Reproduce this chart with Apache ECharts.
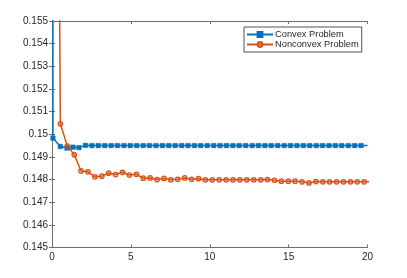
<!DOCTYPE html>
<html><head><meta charset="utf-8">
<script src="https://cdn.jsdelivr.net/npm/echarts@6/dist/echarts.min.js"></script>
<style>html,body{margin:0;padding:0;background:#fff}#c{width:407px;height:278px}</style>
</head><body><div id="c"></div>
<script>
const seriesNames = ['Convex Problem', 'Nonconvex Problem'];
const xTicks = [0, 5, 10, 15, 20];
const yTicks = [0.145, 0.146, 0.147, 0.148, 0.149, 0.15, 0.151, 0.152, 0.153, 0.154, 0.155];

const convexX = [0, 0.06, 0.53, 0.95, 1.33, 1.71, 2.12, 2.53, 2.93, 3.34, 3.75, 4.15, 4.56, 4.96, 5.37, 5.78, 6.18, 6.59, 7.0, 7.4, 7.81, 8.22, 8.62, 9.03, 9.43, 9.84, 10.25, 10.65, 11.06, 11.47, 11.87, 12.28, 12.69, 13.09, 13.5, 13.9, 14.31, 14.72, 15.12, 15.53, 15.94, 16.34, 16.75, 17.15, 17.56, 17.97, 18.37, 18.78, 19.19, 19.59, 20.0];
const convexY = [0.2, 0.14983, 0.14946, 0.14939, 0.14943, 0.14941, 0.14951, 0.1495, 0.1495, 0.1495, 0.1495, 0.1495, 0.1495, 0.1495, 0.1495, 0.1495, 0.1495, 0.1495, 0.1495, 0.1495, 0.1495, 0.1495, 0.1495, 0.1495, 0.1495, 0.1495, 0.1495, 0.1495, 0.1495, 0.1495, 0.1495, 0.1495, 0.1495, 0.1495, 0.1495, 0.1495, 0.1495, 0.1495, 0.1495, 0.1495, 0.1495, 0.1495, 0.1495, 0.1495, 0.1495, 0.1495, 0.1495, 0.1495, 0.1495, 0.1495, 0.1495];

const nonconvexX = [0, 0.53, 0.97, 1.41, 1.84, 2.28, 2.72, 3.16, 3.59, 4.03, 4.47, 4.91, 5.35, 5.78, 6.22, 6.66, 7.10, 7.53, 7.97, 8.41, 8.85, 9.29, 9.72, 10.16, 10.6, 11.04, 11.47, 11.91, 12.35, 12.79, 13.23, 13.66, 14.10, 14.54, 14.98, 15.41, 15.85, 16.29, 16.73, 17.17, 17.6, 18.04, 18.48, 18.92, 19.35, 19.79, 20.23];
const nonconvexY = [0.207, 0.15046, 0.14948, 0.14910, 0.14838, 0.14834, 0.14812, 0.14815, 0.14828, 0.14822, 0.14832, 0.14820, 0.14823, 0.14806, 0.14807, 0.14800, 0.14805, 0.14799, 0.14801, 0.14807, 0.14801, 0.14804, 0.14799, 0.14799, 0.14799, 0.14799, 0.14799, 0.14799, 0.14799, 0.14799, 0.14799, 0.14800, 0.14797, 0.14793, 0.14793, 0.14793, 0.14790, 0.14785, 0.14791, 0.14790, 0.14790, 0.14790, 0.14790, 0.14790, 0.14790, 0.14790, 0.14790];

// the last point of each list only continues the line past the right edge (no marker)
function build(xs, ys) {
  return xs.map((x, i) => i === xs.length - 1 ? {value: [x, ys[i]], symbol: 'none'} : [x, ys[i]]);
}

const txt = '#262626';
const axisCol = '#6e6e6e';
const fmt = v => parseFloat(Number(v).toFixed(3)).toString();
const grid = {left: 52, top: 21, width: 315.5, height: 226.5};

const baseX = {
  type: 'value', min: xTicks[0], max: xTicks[xTicks.length - 1], interval: 5,
  axisLine: {lineStyle: {color: axisCol, width: 1}},
  axisTick: {inside: true, length: 3, lineStyle: {color: axisCol}},
  splitLine: {show: false}
};
const baseY = {
  type: 'value', min: yTicks[0], max: yTicks[yTicks.length - 1], interval: 0.001,
  axisLine: {lineStyle: {color: axisCol, width: 1}},
  axisTick: {inside: true, length: 3, lineStyle: {color: axisCol}},
  splitLine: {show: false}
};

const chart = echarts.init(document.getElementById('c'), null, {renderer: 'canvas'});
chart.setOption({
  backgroundColor: '#fff',
  animation: false,
  grid: grid,
  xAxis: [
    Object.assign({}, baseX, {position: 'bottom', axisLabel: {color: txt, fontSize: 10, fontFamily: 'Liberation Sans', margin: 5}}),
    Object.assign({}, baseX, {position: 'top', axisLabel: {show: false}})
  ],
  yAxis: [
    Object.assign({}, baseY, {position: 'left', axisLabel: {color: txt, fontSize: 10, fontFamily: 'Liberation Sans', margin: 4, formatter: fmt}}),
    Object.assign({}, baseY, {position: 'right', axisLabel: {show: false}})
  ],
  legend: {
    orient: 'vertical', left: 244, top: 27, padding: [3, 3, 3, 2], itemGap: 1,
    itemWidth: 26, itemHeight: 6,
    backgroundColor: '#fff', borderColor: '#262626', borderWidth: 0.8, borderRadius: 0,
    textStyle: {color: txt, fontSize: 9.3, fontFamily: 'Liberation Sans', padding: [0, 0, 0, -3]},
    data: seriesNames
  },
  series: [
    {
      name: seriesNames[0], type: 'line', xAxisIndex: 0, yAxisIndex: 0, clip: true,
      data: build(convexX, convexY),
      symbol: 'rect', symbolSize: 4.5, showAllSymbol: true,
      lineStyle: {color: '#0072BD', width: 1.5},
      itemStyle: {color: '#0072BD', borderColor: '#0072BD', borderWidth: 0.5}
    },
    {
      name: seriesNames[1], type: 'line', xAxisIndex: 0, yAxisIndex: 0, clip: true,
      data: build(nonconvexX, nonconvexY),
      symbol: 'circle', symbolSize: 4.5, showAllSymbol: true,
      lineStyle: {color: '#D95319', width: 1.5},
      itemStyle: {color: 'rgba(217,83,25,0.3)', borderColor: '#D95319', borderWidth: 1.2}
    }
  ]
});
</script>
</body></html>
